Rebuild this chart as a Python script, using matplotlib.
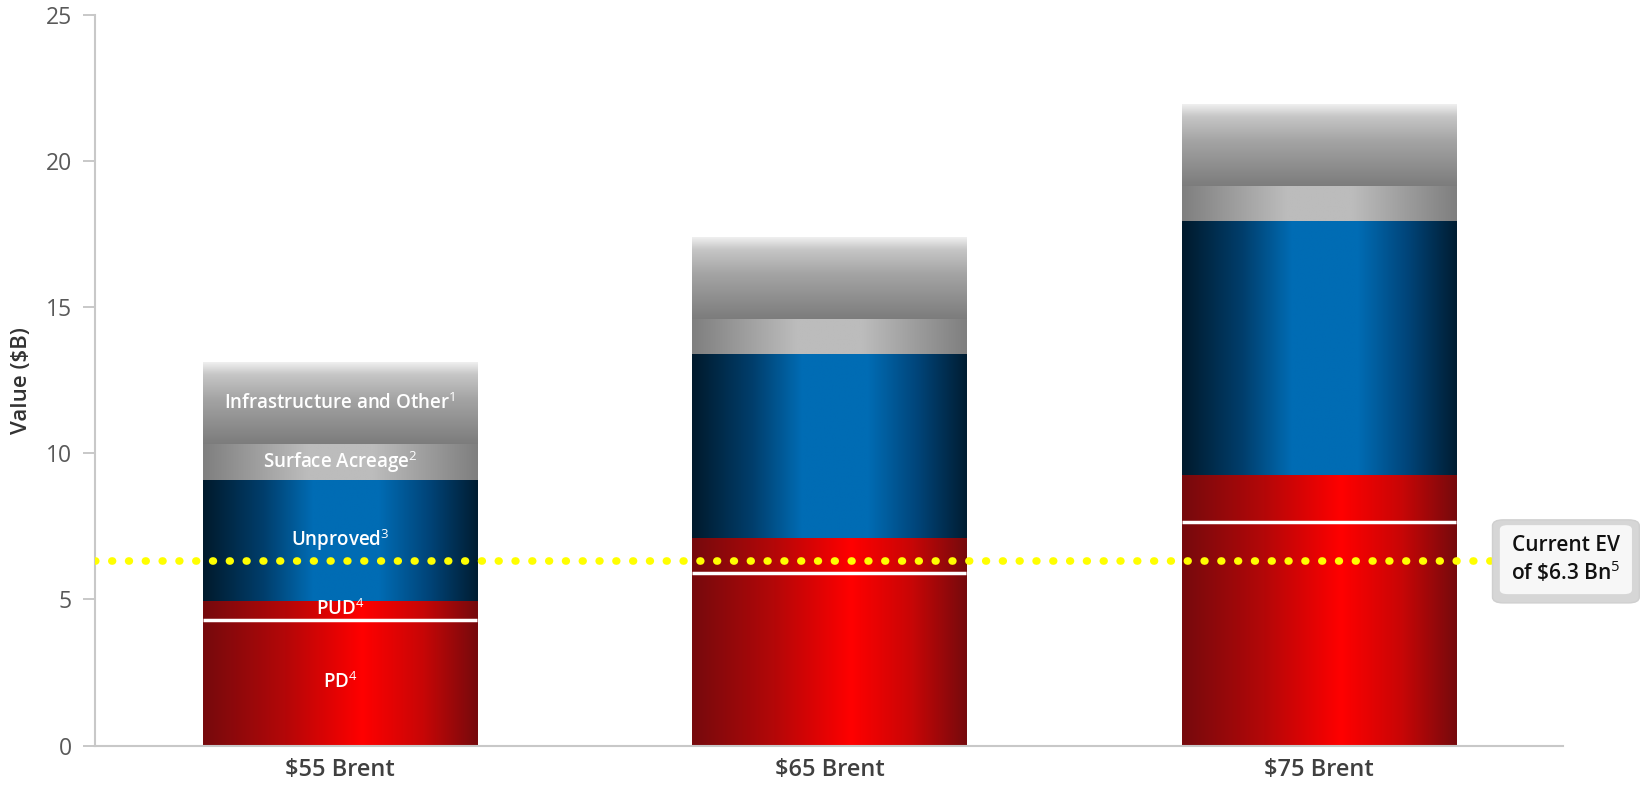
import numpy as np
import matplotlib
matplotlib.use("Agg")
import matplotlib.pyplot as plt
from matplotlib.colors import LinearSegmentedColormap
from matplotlib.patches import FancyBboxPatch

plt.rcParams['font.family'] = ['Open Sans', 'DejaVu Sans']
plt.rcParams['mathtext.fontset'] = 'custom'
plt.rcParams['mathtext.rm'] = 'Open Sans'
plt.rcParams['mathtext.it'] = 'Open Sans'
plt.rcParams['mathtext.bf'] = 'Open Sans:semibold'

# data ($B)
categories = ["\\$55 Brent", "\\$65 Brent", "\\$75 Brent"]
pd_vals = [4.3, 5.9, 7.65]
pud_vals = [0.65, 1.2, 1.6]
unproved_vals = [4.15, 6.3, 8.7]
surface_vals = [1.2, 1.2, 1.2]
infra_vals = [2.8, 2.8, 2.8]
seg_labels = ["PD$^{4}$", "PUD$^{4}$", "Unproved$^{3}$", "Surface Acreage$^{2}$",
              "Infrastructure and Other$^{1}$"]
current_ev = 6.3
ev_text = "Current EV\nof \\$6.3 Bn$^{5}$"

# gradient colormaps
red_cm = LinearSegmentedColormap.from_list("red", [
    (0.0, "#760a0d"), (0.3, "#b40708"), (0.58, "#ff0000"), (0.8, "#c80606"), (1.0, "#760a0d")])
blue_cm = LinearSegmentedColormap.from_list("blue", [
    (0.0, "#001a2c"), (0.22, "#003e6c"), (0.4, "#006cb4"), (0.64, "#006cb4"),
    (0.82, "#00457a"), (1.0, "#001d32")])
surf_cm = LinearSegmentedColormap.from_list("surf", [
    (0.0, "#7f7f7f"), (0.38, "#bcbcbc"), (0.62, "#bcbcbc"), (1.0, "#7f7f7f")])
infra_cm = LinearSegmentedColormap.from_list("infra", [
    (0.0, "#7c7c7c"), (0.55, "#a4a4a4"), (0.85, "#c6c6c6"), (1.0, "#f0f0f0")])

hgrad = np.linspace(0, 1, 256).reshape(1, -1)
vgrad = np.linspace(0, 1, 256).reshape(-1, 1)[::-1]

fig = plt.figure(figsize=(16.44, 7.94), dpi=100)
ax = fig.add_axes([0.058, 0.061, 0.893, 0.9205])

x = np.arange(len(categories))
width = 0.56

segments = [(pd_vals, red_cm, hgrad), (pud_vals, red_cm, hgrad),
            (unproved_vals, blue_cm, hgrad), (surface_vals, surf_cm, hgrad),
            (infra_vals, infra_cm, vgrad)]

for i in x:
    bottom = 0
    for k, (vals, cm, g) in enumerate(segments):
        top = bottom + vals[i]
        ax.imshow(g, cmap=cm, extent=[i - width / 2, i + width / 2, bottom, top],
                  aspect='auto', interpolation='bilinear', zorder=2)
        if i == 0:
            ax.text(i, (bottom + top) / 2, seg_labels[k], color='white', fontsize=13.5,
                    fontweight='semibold', ha='center', va='center', zorder=4)
        bottom = top
    # white line between PD and PUD
    ax.plot([i - width / 2, i + width / 2], [pd_vals[i], pd_vals[i]], color='white',
            lw=2.5, zorder=3, solid_capstyle='butt')

# current EV dotted line
ax.plot([-0.5, 2.36], [current_ev, current_ev], color='#ffff00', lw=5.5,
        ls=(0, (0.1, 2.1)), dash_capstyle='round', zorder=5)

# EV box
outer = FancyBboxPatch((2.355, current_ev - 1.42), 0.3, 2.84,
                       boxstyle="round,pad=0,rounding_size=0.022", transform=ax.transData,
                       facecolor='#d6d6d6', edgecolor='#cfcfcf', lw=1, clip_on=False,
                       mutation_aspect=9, zorder=5)
inner = FancyBboxPatch((2.37, current_ev - 1.12), 0.27, 2.36,
                       boxstyle="round,pad=0,rounding_size=0.016", transform=ax.transData,
                       facecolor='#f7f7f7', edgecolor='none', clip_on=False,
                       mutation_aspect=9, zorder=6)
ax.add_patch(outer)
ax.add_patch(inner)
ax.text(2.505, current_ev + 0.05, ev_text, ha='center', va='center', fontsize=15,
        fontweight='semibold', color='#111111', linespacing=1.15, zorder=7, clip_on=False)

ax.set_xlim(-0.5, 2.5)
ax.set_ylim(0, 25)
ax.set_yticks([0, 5, 10, 15, 20, 25])
ax.set_xticks(x)
ax.set_xticklabels(categories, fontsize=17, color='#404040', fontweight='semibold')
ax.tick_params(axis='x', length=0, pad=9)
ax.tick_params(axis='y', length=9, width=1.2, color='#bfbfbf', labelsize=16.5,
               labelcolor='#595959', pad=8)
ax.set_ylabel("Value (\\$B)", fontsize=16, color='#333333', fontweight='semibold', labelpad=10)
for s in ['top', 'right']:
    ax.spines[s].set_visible(False)
for s in ['left', 'bottom']:
    ax.spines[s].set_color('#c8c8c8')
    ax.spines[s].set_linewidth(1.5)
ax.spines['bottom'].set_bounds(-0.5, 2.5)

fig.savefig("out.png", dpi=100)
